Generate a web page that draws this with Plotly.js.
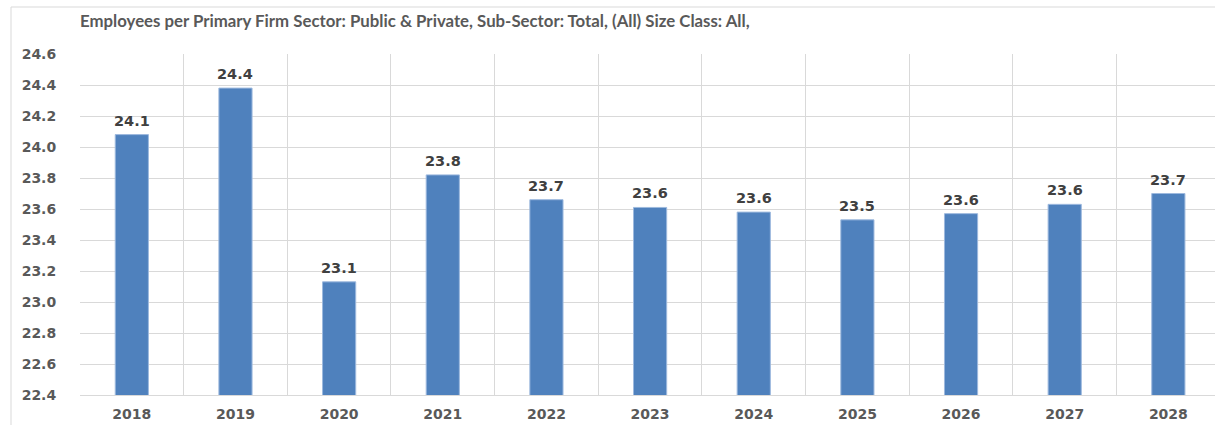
<!DOCTYPE html>
<html>
<head>
<meta charset="utf-8">
<script src="https://cdn.plot.ly/plotly-3.0.1.min.js"></script>
<style>html,body{margin:0;padding:0;background:#fff;}#chart{width:1215px;height:425px;}</style>
</head>
<body>
<div id="chart"></div>
<script>
const years = ['2018','2019','2020','2021','2022','2023','2024','2025','2026','2027','2028'];
const employeesPerFirm = [24.08, 24.38, 23.13, 23.82, 23.66, 23.61, 23.58, 23.53, 23.57, 23.63, 23.70];
const yTickValues = [22.4, 22.6, 22.8, 23.0, 23.2, 23.4, 23.6, 23.8, 24.0, 24.2, 24.4, 24.6];
const chartTitle = 'Employees per Primary Firm Sector: Public & Private, Sub-Sector: Total, (All) Size Class: All,';

const labelFont = { family: 'DejaVu Sans', size: 14.5, color: '#404040' };

const trace = {
  type: 'bar',
  x: years,
  y: employeesPerFirm,
  marker: { color: '#4F81BD', line: { color: '#9DB9DE', width: 1 } },
  hoverinfo: 'x+y'
};

const valueLabels = years.map((yr, i) => ({
  x: i,
  y: employeesPerFirm[i],
  xref: 'x', yref: 'y',
  text: '<b>' + employeesPerFirm[i].toFixed(1) + '</b>',
  showarrow: false,
  xanchor: 'center',
  yanchor: 'bottom',
  yshift: 4,
  font: labelFont
}));

const layout = {
  width: 1215,
  height: 425,
  margin: { l: 80, r: 0, t: 54, b: 30 },
  paper_bgcolor: '#ffffff',
  plot_bgcolor: '#ffffff',
  bargap: 0.68,
  showlegend: false,
  title: {
    text: '<b>' + chartTitle + '</b>',
    xref: 'container', yref: 'container',
    x: 80 / 1215, xanchor: 'left',
    y: 1 - 21 / 425, yanchor: 'middle',
    font: { family: 'Lato', size: 16.8, color: '#595959' }
  },
  xaxis: {
    type: 'category',
    range: [-0.5, 10.45],
    tickson: 'boundaries',
    showgrid: true,
    gridcolor: '#d9d9d9',
    gridwidth: 1,
    showline: true,
    linecolor: '#d9d9d9',
    ticks: '',
    ticklabelstandoff: 6,
    tickfont: { family: 'DejaVu Sans', size: 14, color: '#595959', weight: 'bold' },
    fixedrange: true
  },
  yaxis: {
    range: [22.4, 24.6],
    tickvals: yTickValues,
    tickformat: '.1f',
    showgrid: true,
    gridcolor: '#d9d9d9',
    zeroline: false,
    ticks: 'outside',
    ticklen: 20,
    tickcolor: 'rgba(0,0,0,0)',
    tickfont: { family: 'DejaVu Sans', size: 14, color: '#595959', weight: 'bold' },
    fixedrange: true
  },
  annotations: valueLabels,
  shapes: [
    { type: 'line', xref: 'paper', yref: 'paper', x0: -69 / 1135, x1: 1.02, y0: 1 + 47 / 341, y1: 1 + 47 / 341, line: { color: '#d9d9d9', width: 1 } },
    { type: 'line', xref: 'paper', yref: 'paper', x0: -69 / 1135, x1: -69 / 1135, y0: 1 + 47 / 341, y1: -0.2, line: { color: '#d9d9d9', width: 1 } }
  ]
};

Plotly.newPlot('chart', [trace], layout, { displayModeBar: false, staticPlot: true });
</script>
</body>
</html>
